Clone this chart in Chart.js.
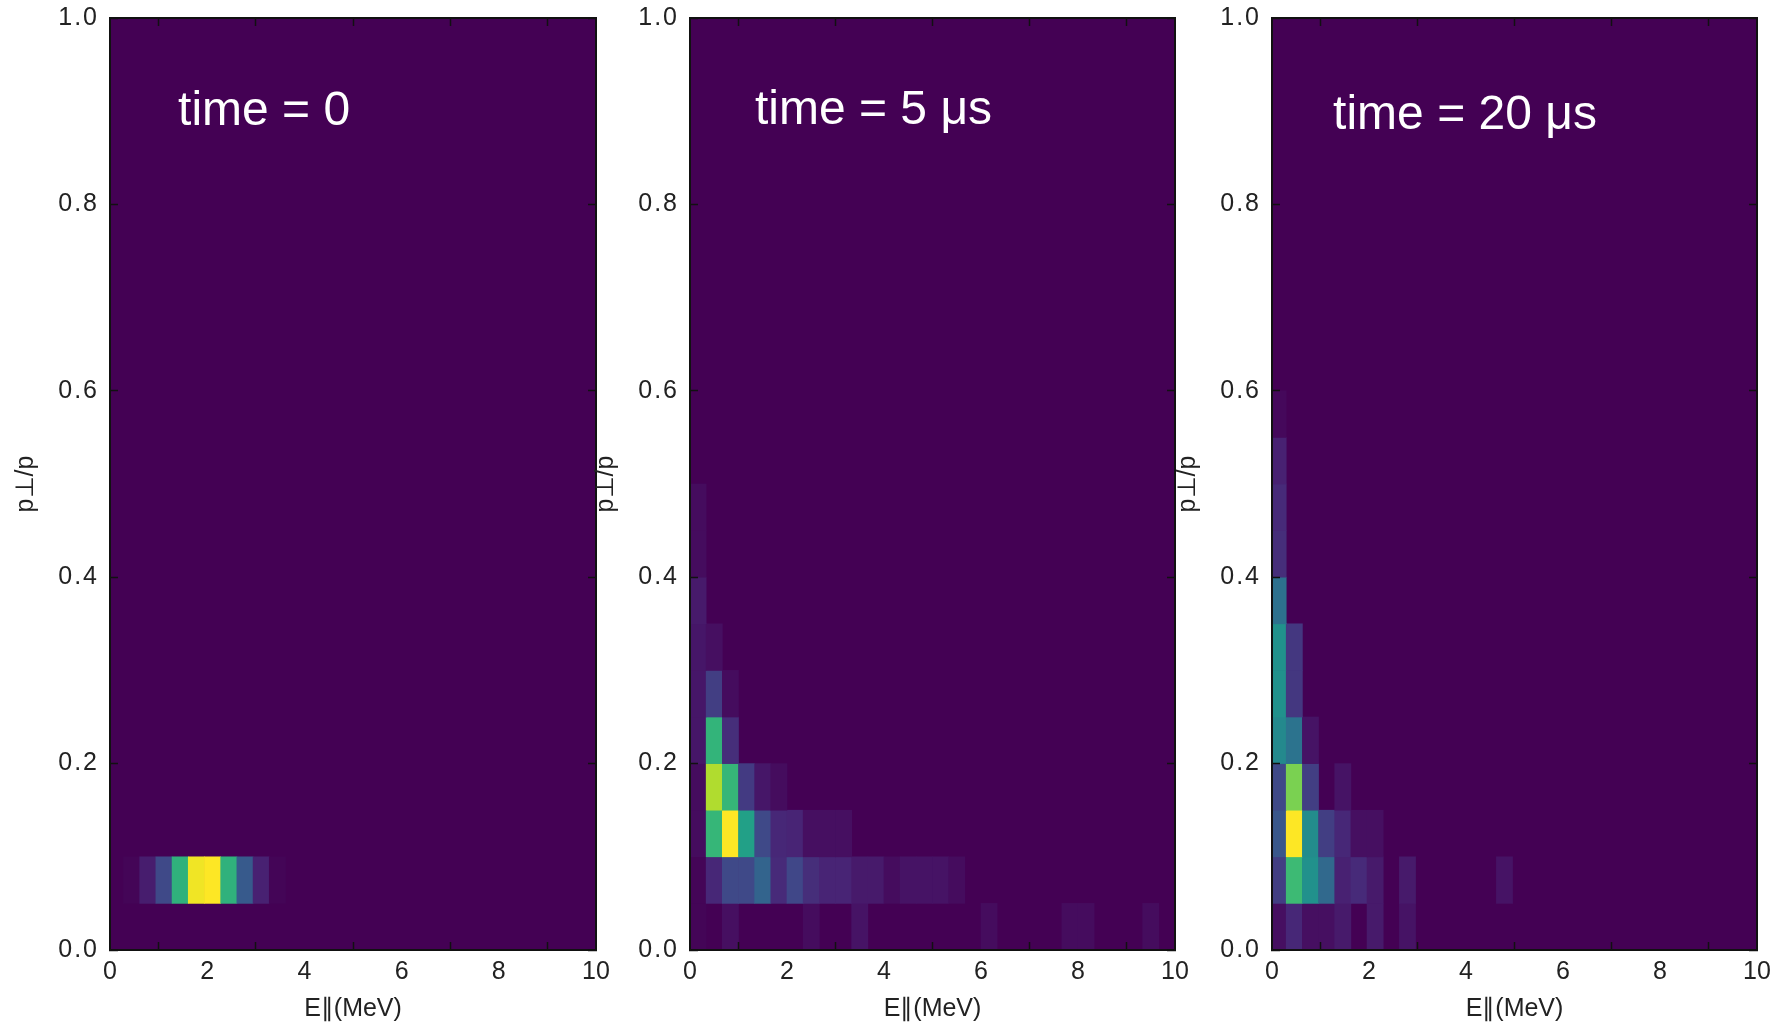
<!DOCTYPE html>
<html lang="en">
<head>
<meta charset="UTF-8" />
<title>p⊥/p vs E∥ at three times</title>
<script src="https://cdn.jsdelivr.net/npm/chart.js"></script>
<style>
  body { margin: 0; background: #ffffff; }
  #wrap { position: relative; width: 1776px; height: 1027px; overflow: hidden; }
  #wrap canvas { position: absolute; top: 0; }
</style>
</head>
<body>
<div id="wrap"></div>
<script>
// ---- data ----
const E_TICKS = [0, 2, 4, 6, 8, 10];
const P_TICKS = [0, 0.2, 0.4, 0.6, 0.8, 1.0];
const E_BIN = 1 / 3;   // MeV per column
const P_BIN = 0.05;    // p_perp/p per row
const PANEL_LABELS = ["time = 0", "time = 5 μs", "time = 20 μs"];
const BIN_START = [-0.056, 0, -0.04]; // left edge of first E bin (MeV)

// [E bin, p bin, normalised count]  (empty bins left out)
const CELLS_T0 = [
  [1, 1, 0.01], [2, 1, 0.08], [3, 1, 0.22], [4, 1, 0.64], [5, 1, 0.98],
  [6, 1, 1.0], [7, 1, 0.64], [8, 1, 0.28], [9, 1, 0.09], [10, 1, 0.01]
];
const CELLS_T5 = [
  [0, 0, 0.01], [2, 0, 0.04], [7, 0, 0.03], [10, 0, 0.05], [18, 0, 0.03], [23, 0, 0.03], [24, 0, 0.03], [28, 0, 0.03],
  [0, 1, 0.01], [1, 1, 0.11], [2, 1, 0.22], [3, 1, 0.22], [4, 1, 0.32], [5, 1, 0.12], [6, 1, 0.21], [7, 1, 0.13],
  [8, 1, 0.1], [9, 1, 0.1], [10, 1, 0.07], [11, 1, 0.07], [12, 1, 0.03], [13, 1, 0.05], [14, 1, 0.05], [15, 1, 0.05], [16, 1, 0.03],
  [0, 2, 0.03], [1, 2, 0.66], [2, 2, 1.0], [3, 2, 0.565], [4, 2, 0.22], [5, 2, 0.11], [6, 2, 0.1], [7, 2, 0.04], [8, 2, 0.04], [9, 2, 0.04],
  [0, 3, 0.03], [1, 3, 0.88], [2, 3, 0.66], [3, 3, 0.17], [4, 3, 0.06], [5, 3, 0.03],
  [0, 4, 0.06], [1, 4, 0.65], [2, 4, 0.13],
  [0, 5, 0.06], [1, 5, 0.18], [2, 5, 0.03],
  [0, 6, 0.06], [1, 6, 0.04],
  [0, 7, 0.07],
  [0, 8, 0.03], [0, 9, 0.03]
];
const CELLS_T20 = [
  [0, 0, 0.04], [1, 0, 0.11], [2, 0, 0.04], [3, 0, 0.04], [4, 0, 0.07], [6, 0, 0.07], [8, 0, 0.05],
  [0, 1, 0.18], [1, 1, 0.68], [2, 1, 0.5], [3, 1, 0.34], [4, 1, 0.09], [5, 1, 0.12], [6, 1, 0.07], [8, 1, 0.07], [14, 1, 0.05],
  [0, 2, 0.27], [1, 2, 1.0], [2, 2, 0.48], [3, 2, 0.18], [4, 2, 0.11], [5, 2, 0.04], [6, 2, 0.04],
  [0, 3, 0.22], [1, 3, 0.8], [2, 3, 0.18], [4, 3, 0.05],
  [0, 4, 0.47], [1, 4, 0.38], [2, 4, 0.05],
  [0, 5, 0.5], [1, 5, 0.16],
  [0, 6, 0.5], [1, 6, 0.16],
  [0, 7, 0.37],
  [0, 8, 0.13], [0, 9, 0.12], [0, 10, 0.09], [0, 11, 0.02]
];
const PANEL_CELLS = [CELLS_T0, CELLS_T5, CELLS_T20];

// ---- layout / style ----
const BOXES = [
  { left: 0, width: 620, padRight: 24 },
  { left: 580, width: 620, padRight: 25 },
  { left: 1162, width: 614, padRight: 19 }
];
const LABEL_AT = [[1.40, 0.899], [1.34, 0.900], [1.26, 0.895]]; // data coords
const INK = "#111111";

const VIRIDIS = ["#440154", "#482475", "#414487", "#355f8d", "#2a788e", "#21918c",
  "#22a884", "#44bf70", "#7ad151", "#bddf26", "#fde725"];
function hexRgb(h) {
  return [1, 3, 5].map(i => parseInt(h.slice(i, i + 2), 16));
}
function viridis(v) {
  const t = Math.min(Math.max(v, 0), 1) * 10;
  const i = Math.min(Math.floor(t), 9);
  const f = t - i;
  const a = hexRgb(VIRIDIS[i]), b = hexRgb(VIRIDIS[i + 1]);
  const c = a.map((x, k) => Math.round(x + (b[k] - x) * f));
  return `rgb(${c[0]},${c[1]},${c[2]})`;
}

Chart.defaults.font.family = '"Liberation Sans", Arial, Helvetica, sans-serif';
Chart.defaults.color = "#222222";

// fill the plot area with the colormap's zero colour
const heatBg = {
  id: "heatBg",
  beforeDatasetsDraw(chart) {
    const { ctx, chartArea: a } = chart;
    ctx.save();
    ctx.fillStyle = viridis(0);
    ctx.fillRect(a.left, a.top, a.width, a.height);
    ctx.restore();
  }
};

// "time = ..." text inside each panel
const panelText = {
  id: "panelText",
  afterDraw(chart, args, opts) {
    const { ctx, scales } = chart;
    ctx.save();
    ctx.font = '48px "Liberation Sans", Arial, sans-serif';
    ctx.fillStyle = "#ffffff";
    ctx.textBaseline = "middle";
    ctx.textAlign = "left";
    ctx.fillText(opts.text, scales.x.getPixelForValue(opts.at[0]), scales.y.getPixelForValue(opts.at[1]));
    ctx.restore();
  }
};

// y tick labels are drawn a little letter-spaced in the original
const spacedTicks = {
  id: "spacedTicks",
  afterLayout(chart) {
    const s = chart.scales.y;
    if (s._spaced) return;
    const draw = s.drawLabels;
    s.drawLabels = function (area) {
      this.ctx.save();
      this.ctx.letterSpacing = "2px";
      draw.call(this, area);
      this.ctx.restore();
    };
    s._spaced = true;
  }
};

const inwardGrid = { drawOnChartArea: false, tickLength: -8, tickWidth: 1.5, tickColor: INK, z: 1 };
const frame = { display: true, color: INK, width: 2, z: 1 };
const setTicks = list => scale => { scale.ticks = list.map(v => ({ value: v })); };

function makePanel(i) {
  const box = BOXES[i];
  const canvas = document.createElement("canvas");
  canvas.width = box.width;
  canvas.height = 1027;
  canvas.style.left = box.left + "px";
  document.getElementById("wrap").appendChild(canvas);

  new Chart(canvas, {
    type: "bar",
    data: {
      datasets: [{
        data: PANEL_CELLS[i].map(([c, r, v]) => ({
          x: BIN_START[i] + (c + 0.5) * E_BIN,
          y: [r * P_BIN, (r + 1) * P_BIN],
          v: v
        })),
        backgroundColor: ctx => viridis(ctx.raw ? ctx.raw.v : 0),
        borderWidth: 0,
        barPercentage: 1,
        categoryPercentage: 1,
        clip: 0
      }]
    },
    options: {
      responsive: false,
      animation: false,
      events: [],
      layout: { padding: { top: 18, right: box.padRight, left: 0, bottom: 0 } },
      plugins: {
        legend: { display: false },
        tooltip: { enabled: false },
        panelText: { text: PANEL_LABELS[i], at: LABEL_AT[i] }
      },
      scales: {
        x: {
          type: "linear", position: "bottom", min: 0, max: 10, offset: false,
          afterBuildTicks: setTicks(E_TICKS),
          afterFit: s => { s.height = 77; s.paddingLeft = 0; s.paddingRight = 0; },
          grid: inwardGrid, border: frame,
          ticks: { padding: 15, color: "#222", font: { size: 25 }, callback: v => String(v) },
          title: { display: true, text: "E∥(MeV)", color: "#222", font: { size: 25 }, padding: { top: 0, bottom: 3 } }
        },
        y: {
          type: "linear", position: "left", min: 0, max: 1,
          afterBuildTicks: setTicks(P_TICKS),
          afterFit: s => { s.width = 110; s.paddingTop = 0; s.paddingBottom = 0; },
          grid: inwardGrid, border: frame,
          ticks: { padding: 19, color: "#222", font: { size: 25 }, callback: v => v.toFixed(1) },
          title: { display: true, text: "p⊥/p", color: "#222", font: { size: 25 }, padding: { top: 11, bottom: 0 } }
        },
        xTop: {
          type: "linear", position: "top", min: 0, max: 10, offset: false,
          afterBuildTicks: setTicks(E_TICKS),
          afterFit: s => { s.height = 0; },
          grid: inwardGrid, border: frame,
          ticks: { display: false }
        },
        yRight: {
          type: "linear", position: "right", min: 0, max: 1,
          afterBuildTicks: setTicks(P_TICKS),
          afterFit: s => { s.width = 0; },
          grid: inwardGrid, border: frame,
          ticks: { display: false }
        }
      }
    },
    plugins: [heatBg, panelText, spacedTicks]
  });
}

document.addEventListener("DOMContentLoaded", function () {
  for (let i = 0; i < 3; i++) makePanel(i);
});
</script>
</body>
</html>
